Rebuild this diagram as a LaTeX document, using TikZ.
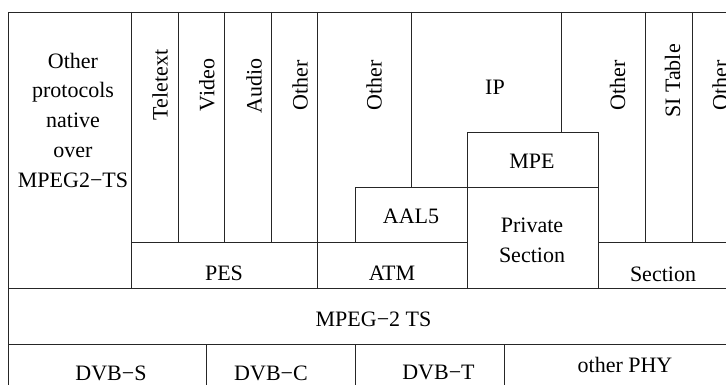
\documentclass[tikz,border=0pt]{standalone}
\usepackage{fontspec}
\setmainfont{Liberation Serif}
\begin{document}
\begin{tikzpicture}[x=1pt,y=-1pt,
  grid/.style={line width=0.9pt, draw=black!85},
  every node/.style={inner sep=0pt, font=\fontsize{22}{29.75}\selectfont},
  lbl/.style={anchor=base},
  vlbl/.style={rotate=90, anchor=center}]
\useasboundingbox (0,0) rectangle (726,385);
\clip (0,0) rectangle (726,385);
% frame and layer lines
\draw[grid] (8,12) -- (740,12);
\draw[grid] (8,288) -- (740,288);
\draw[grid] (8,344) -- (740,344);
\draw[grid] (8,12) -- (8,400);
\draw[grid] (740,12) -- (740,400);
\draw[grid] (131,12) -- (131,288);
\foreach \x in {178,224,271,645,692} \draw[grid] (\x,12) -- (\x,242);
\draw[grid] (317,12) -- (317,288);
\draw[grid] (131,242) -- (467,242);
\draw[grid] (598,242) -- (740,242);
\draw[grid] (355,242) -- (355,187) -- (598,187);
\draw[grid] (411,12) -- (411,187);
\draw[grid] (561,12) -- (561,132);
\draw[grid] (467,288) -- (467,132) -- (598,132) -- (598,288);
\foreach \x in {206,355,504} \draw[grid] (\x,344) -- (\x,400);
% labels
\node[align=center] (native) at (73,120) {Other\\protocols\\native\\over\\MPEG2−TS};
\node[vlbl] (teletext) at (160,85) {Teletext};
\node[vlbl] (video) at (207,85) {Video};
\node[vlbl] (audio) at (254,86) {Audio};
\node[vlbl] (otherpes) at (300,85) {Other};
\node[vlbl] (otheratm) at (374,85) {Other};
\node[lbl] (ip) at (495,95) {IP};
\node[vlbl] (othersec) at (617.5,85) {Other};
\node[vlbl] (sitable) at (672.5,81) {SI Table};
\node[vlbl] (otherlast) at (720,85) {Other};
\node[lbl] (mpe) at (532,168) {MPE};
\node[lbl] (aal5) at (411,223) {AAL5};
\node[lbl] (private) at (532,233) {Private};
\node[lbl] (privsec) at (532,262) {Section};
\node[lbl] (pes) at (224,280) {PES};
\node[lbl] (atm) at (392,280) {ATM};
\node[lbl] (section) at (663,281) {Section};
\node[lbl] (ts) at (373.5,326) {MPEG−2 TS};
\node[lbl] (dvbs) at (111,380) {DVB−S};
\node[lbl] (dvbc) at (271,380) {DVB−C};
\node[lbl] (dvbt) at (438.5,379) {DVB−T};
\node[lbl] (otherphy) at (625,372) {other PHY};
\end{tikzpicture}
\end{document}
